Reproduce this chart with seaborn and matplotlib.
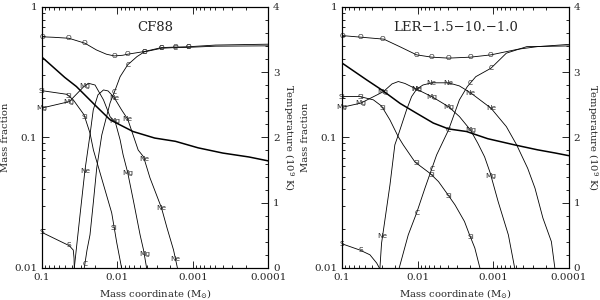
import numpy as np
import matplotlib
matplotlib.use("Agg")
import matplotlib.pyplot as plt
from matplotlib.ticker import FixedLocator, LogLocator, MultipleLocator, NullFormatter
import seaborn as sns

# ---- CF88 panel (mass coordinate, mass fraction) ----
cf_O_m = [0.1, 0.07, 0.044, 0.027, 0.019, 0.014, 0.011, 0.0085, 0.0073, 0.0044,
          0.0026, 0.0017, 0.00115, 0.0005, 0.0001]
cf_O_x = [0.59, 0.585, 0.575, 0.527, 0.468, 0.434, 0.421, 0.426, 0.434, 0.455,
          0.488, 0.492, 0.495, 0.51, 0.518]
cf_C_m = [0.0275, 0.0253, 0.0231, 0.0208, 0.0188, 0.0161, 0.0125, 0.0107, 0.0092,
          0.0073, 0.0055, 0.0044, 0.0026, 0.0017, 0.00115, 0.0005, 0.0001]
cf_C_x = [0.01, 0.0137, 0.0179, 0.0322, 0.0584, 0.1045, 0.184, 0.231, 0.292,
          0.36, 0.416, 0.452, 0.482, 0.488, 0.49, 0.50, 0.503]
cf_Si_m = [0.1, 0.047, 0.0385, 0.0277, 0.0231, 0.0208, 0.0119, 0.0102, 0.0088]
cf_Si_x = [0.228, 0.214, 0.194, 0.149, 0.108, 0.080, 0.0264, 0.0156, 0.01]
cf_Mg_m = [0.1, 0.0435, 0.0283, 0.0243, 0.0198, 0.0153, 0.0125, 0.0107, 0.0092,
           0.0084, 0.0073, 0.0061, 0.005, 0.0045, 0.0041]
cf_Mg_x = [0.168, 0.188, 0.243, 0.26, 0.252, 0.194, 0.144, 0.132, 0.0957,
           0.0735, 0.0537, 0.0322, 0.0179, 0.0137, 0.01]
cf_Ne_m = [0.0373, 0.0313, 0.0269, 0.0231, 0.0209, 0.0181, 0.0153, 0.0133, 0.0111,
           0.0088, 0.0073, 0.0062, 0.0053, 0.0045, 0.0037, 0.0026, 0.0022, 0.0018, 0.0016]
cf_Ne_x = [0.01, 0.0255, 0.0564, 0.1045, 0.1625, 0.212, 0.231, 0.227, 0.203,
           0.1625, 0.138, 0.1045, 0.080, 0.071, 0.049, 0.0288, 0.0203, 0.0137, 0.01]
cf_S_m = [0.1, 0.0435, 0.0385, 0.0376, 0.0373]
cf_S_x = [0.0187, 0.0148, 0.0137, 0.0119, 0.01]
cf_T_m = [0.1, 0.05, 0.035, 0.02, 0.0125, 0.0062, 0.0032, 0.0017, 0.00085,
          0.0004, 0.00018, 0.0001]
cf_T = [3.23, 2.92, 2.78, 2.5, 2.27, 2.09, 1.99, 1.94, 1.84, 1.76, 1.70, 1.64]
cf_label_m = [0.1, 0.044, 0.027, 0.011, 0.0073, 0.0044, 0.0026, 0.0017, 0.00115]

# ---- LER-1.5-10.-1.0 panel ----
ler_O_m = [0.1, 0.056, 0.028, 0.017, 0.0103, 0.0065, 0.0039, 0.002, 0.00107,
           0.00047, 0.00026, 0.0001]
ler_O_x = [0.603, 0.586, 0.566, 0.494, 0.429, 0.412, 0.405, 0.412, 0.429,
           0.474, 0.496, 0.516]
ler_C_m = [0.0175, 0.0133, 0.0103, 0.008, 0.0056, 0.0039, 0.0028, 0.0022, 0.0017,
           0.00107, 0.00067, 0.00036, 0.0001]
ler_C_x = [0.01, 0.0179, 0.0264, 0.0408, 0.0734, 0.114, 0.194, 0.245, 0.292,
           0.339, 0.442, 0.496, 0.502]
ler_Si_m = [0.1, 0.058, 0.0385, 0.03, 0.0232, 0.018, 0.0155, 0.0108, 0.0069,
            0.0053, 0.0041, 0.0032, 0.0024, 0.0021, 0.00175, 0.0015]
ler_Si_x = [0.2055, 0.2055, 0.194, 0.174, 0.136, 0.101, 0.0877, 0.0646, 0.0532,
            0.0459, 0.0373, 0.0304, 0.0227, 0.0185, 0.0142, 0.01]
ler_Mg_m = [0.1, 0.0566, 0.0284, 0.0218, 0.018, 0.0147, 0.0103, 0.0065, 0.0039,
            0.0028, 0.002, 0.0016, 0.0013, 0.0011, 0.00086, 0.00063, 0.00052]
ler_Mg_x = [0.170, 0.183, 0.224, 0.257, 0.268, 0.259, 0.234, 0.2055, 0.172,
            0.1445, 0.114, 0.0903, 0.071, 0.0538, 0.0322, 0.0179, 0.01]
ler_Ne_m = [0.0315, 0.03, 0.0232, 0.02, 0.018, 0.014, 0.012, 0.0103, 0.0085,
            0.0065, 0.0039, 0.0028, 0.002, 0.00107, 0.00067, 0.00049, 0.00035,
            0.00028, 0.00022, 0.00017, 0.000153]
ler_Ne_x = [0.01, 0.0154, 0.0433, 0.0877, 0.1045, 0.1625, 0.2055, 0.234, 0.252,
            0.262, 0.262, 0.248, 0.220, 0.1675, 0.121, 0.0877, 0.058, 0.0408,
            0.0241, 0.0159, 0.01]
ler_S_m = [0.1, 0.058, 0.0427, 0.0348, 0.0321]
ler_S_x = [0.0153, 0.0137, 0.0126, 0.0109, 0.01]
ler_T_m = [0.1, 0.047, 0.03, 0.017, 0.0103, 0.0062, 0.0039, 0.00225, 0.00118,
           0.00052, 0.00026, 0.00015, 0.0001]
ler_T = [3.14, 2.88, 2.73, 2.52, 2.37, 2.22, 2.13, 2.09, 1.98, 1.885, 1.81, 1.76, 1.72]
ler_label_m = [0.1, 0.057, 0.029, 0.0103, 0.0065, 0.0039, 0.002, 0.00107]

x_ticks = [0.1, 0.01, 0.001, 0.0001]
x_ticklabels = ["0.1", "0.01", "0.001", "0.0001"]
y_ticks = [0.01, 0.1, 1]
y_ticklabels = ["0.01", "0.1", "1"]
t_ticks = [0, 1, 2, 3, 4]

sns.set_style("ticks")
plt.rcParams["font.family"] = ["DejaVu Serif"]
plt.rcParams["mathtext.fontset"] = "dejavuserif"


def label_curve(ax, name, m, x, where):
    lm = np.log10(m)[::-1]
    lx = np.log10(x)[::-1]
    for p in where:
        lp = np.log10(p)
        if lp < lm[0] - 0.01 or lp > lm[-1] + 0.01:
            continue
        v = 10 ** np.interp(lp, lm, lx)
        ax.text(p, v, name, ha="center", va="center", fontsize=5.3,
                family="DejaVu Sans", zorder=5)


def draw_panel(ax, title, curves, t_m, t_v, where, right_pos):
    for name, m, x in curves:
        sns.lineplot(x=m, y=x, ax=ax, color="k", linewidth=0.6,
                     sort=False, estimator=None)
        label_curve(ax, name, m, x, where)
    ax.set_xscale("log")
    ax.set_yscale("log")
    ax.set_xlim(0.1, 0.0001)
    ax.set_ylim(0.01, 1)
    ax.set_xticks(x_ticks, x_ticklabels)
    ax.set_yticks(y_ticks, y_ticklabels)
    ax.xaxis.set_minor_locator(LogLocator(base=10, subs=np.arange(2, 10)))
    ax.yaxis.set_minor_locator(LogLocator(base=10, subs=np.arange(2, 10)))
    ax.xaxis.set_minor_formatter(NullFormatter())
    ax.yaxis.set_minor_formatter(NullFormatter())
    ax.tick_params(which="both", direction="in", top=True, right=False,
                   labelsize=7.5, width=0.7)
    ax.tick_params(which="major", length=5)
    ax.tick_params(which="minor", length=2.5)
    ax.set_xlabel(r"Mass coordinate (M$_{\odot}$)", fontsize=7.2)
    ax.xaxis.set_label_coords(0.5, -0.075)
    ax.set_ylabel("Mass fraction", fontsize=7.2)
    ax.yaxis.set_label_coords(-0.14, 0.5)
    ax.text(0.5, 0.92, title, transform=ax.transAxes, ha="center",
            va="center", fontsize=9.5)

    tx = ax.twinx()
    sns.lineplot(x=t_m, y=t_v, ax=tx, color="k", linewidth=1.1,
                 sort=False, estimator=None)
    tx.set_ylim(0, 4)
    tx.yaxis.set_major_locator(FixedLocator(t_ticks))
    tx.yaxis.set_minor_locator(MultipleLocator(0.2))
    tx.tick_params(which="both", direction="in", labelsize=7.5, width=0.7)
    tx.tick_params(which="major", length=5)
    tx.tick_params(which="minor", length=2.5)
    tx.set_ylabel(r"Temperature (10$^{9}$ K)", fontsize=7.2, rotation=270,
                  va="center", ha="center")
    tx.yaxis.set_label_coords(right_pos, 0.5)
    for a in (ax, tx):
        for s in a.spines.values():
            s.set_linewidth(0.8)
            s.set_color("k")


fig = plt.figure(figsize=(6, 3), dpi=100)
ax1 = fig.add_axes([0.07, 0.107, 0.377, 0.87])
ax2 = fig.add_axes([0.57, 0.107, 0.378, 0.87])

cf_curves = [("O", cf_O_m, cf_O_x), ("C", cf_C_m, cf_C_x), ("Si", cf_Si_m, cf_Si_x),
             ("Mg", cf_Mg_m, cf_Mg_x), ("Ne", cf_Ne_m, cf_Ne_x), ("S", cf_S_m, cf_S_x)]
ler_curves = [("O", ler_O_m, ler_O_x), ("C", ler_C_m, ler_C_x), ("Si", ler_Si_m, ler_Si_x),
              ("Mg", ler_Mg_m, ler_Mg_x), ("Ne", ler_Ne_m, ler_Ne_x), ("S", ler_S_m, ler_S_x)]

draw_panel(ax1, "CF88", cf_curves, cf_T_m, cf_T, cf_label_m, 1.09)
draw_panel(ax2, "LER\u22121.5\u221210.\u22121.0", ler_curves, ler_T_m, ler_T,
           ler_label_m, 1.105)

fig.savefig("out.png", dpi=100)
